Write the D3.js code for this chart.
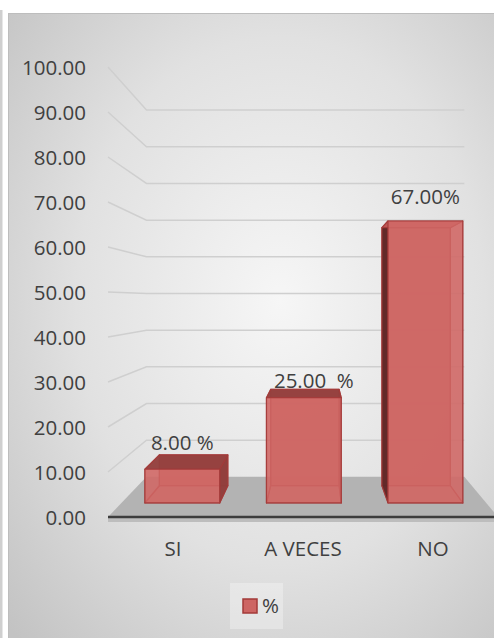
<!DOCTYPE html>
<html>
<head>
<meta charset="utf-8">
<script src="https://cdn.jsdelivr.net/npm/d3@7"></script>
<style>
  html, body { margin: 0; padding: 0; background: #fff; }
  svg { display: block; font-family: "Open Sans", sans-serif; }
  text { white-space: pre; }
</style>
</head>
<body>
<div id="chart"></div>
<script>
// chart data
const categories = ["SI", "A VECES", "NO"];
const percentValues = [8, 25, 67];
const valueLabels = ["8.00 %", "25.00  %", "67.00%"];
const yTicks = [0, 10, 20, 30, 40, 50, 60, 70, 80, 90, 100];
const seriesName = "%";

// layout
const width = 494;
const height = 638;
const fontSize = 20.5;
const textColor = "#404040";

// one point perspective: everything is laid out on the front plane
// and pulled toward the vanishing point by a depth factor
const vp = [316, 300];
const wallDepth = 0.815;
const barFrontDepth = 0.935;
const barBackDepth = 0.856;
const project = (x, y, s) => [vp[0] + (x - vp[0]) * s, vp[1] + (y - vp[1]) * s];

const x = d3.scaleBand()
  .domain(categories)
  .range([108, 498])
  .paddingInner(0.385)
  .paddingOuter(0.1925);

const y = d3.scaleLinear()
  .domain([0, 100])
  .range([517, 67]);

const fmt = d3.format(".2f");

const svg = d3.select("#chart").append("svg")
  .attr("width", width)
  .attr("height", height)
  .attr("viewBox", `0 0 ${width} ${height}`);

const defs = svg.append("defs");
const bg = defs.append("radialGradient")
  .attr("id", "bg")
  .attr("cx", "55%").attr("cy", "45%").attr("r", "75%");
bg.append("stop").attr("offset", "0%").attr("stop-color", "#f6f6f6");
bg.append("stop").attr("offset", "55%").attr("stop-color", "#e1e1e1");
bg.append("stop").attr("offset", "100%").attr("stop-color", "#c3c3c3");

const clip = defs.append("clipPath").attr("id", "panelClip");
clip.append("rect").attr("x", 9).attr("y", 14).attr("width", width - 9).attr("height", height - 14);

// outer frame bits
svg.append("rect")
  .attr("x", 0).attr("y", 10).attr("width", 2.5).attr("height", height - 10)
  .attr("fill", "#cfcfcf");

svg.append("rect")
  .attr("x", 8.5).attr("y", 13.5)
  .attr("width", width).attr("height", height)
  .attr("fill", "url(#bg)")
  .attr("stroke", "#bdbdbd");

const plot = svg.append("g").attr("clip-path", "url(#panelClip)");

// gridlines: left wall diagonals + back wall horizontals
const gridTicks = yTicks.filter(v => v > 0);
const [xMin, xMax] = x.range();

plot.selectAll(".wall-line")
  .data(gridTicks)
  .enter()
  .append("path")
  .attr("class", "wall-line")
  .attr("fill", "none")
  .attr("stroke", "#cfcfcf")
  .attr("stroke-width", 1.5)
  .attr("d", v => {
    const a = project(xMin, y(v), 1);
    const b = project(xMin, y(v), wallDepth);
    const c = project(xMax, y(v), wallDepth);
    return `M${a}L${b}L${c}`;
  });

// floor
const y0 = y(0);
const floorPts = [
  project(xMin, y0, 1),
  project(xMax, y0, 1),
  project(xMax, y0, wallDepth),
  project(xMin, y0, wallDepth)
];

plot.append("path")
  .attr("d", `M${floorPts.join("L")}Z`)
  .attr("fill", "#b3b3b3");

plot.append("rect")
  .attr("x", xMin).attr("y", y0 + 1)
  .attr("width", width).attr("height", 4)
  .attr("fill", "#bdbdbd");

plot.append("line")
  .attr("x1", xMin).attr("x2", width)
  .attr("y1", y0).attr("y2", y0)
  .attr("stroke", "#3d3d3d")
  .attr("stroke-width", 2.5);

// bars as transparent boxes
const bars = categories.map((c, i) => ({ cat: c, value: percentValues[i], label: valueLabels[i] }));

function boxFaces(d) {
  const x0 = x(d.cat);
  const x1 = x0 + x.bandwidth();
  const yt = y(d.value);
  const yb = y(0);
  const F = (px, py) => project(px, py, barFrontDepth);
  const B = (px, py) => project(px, py, barBackDepth);
  const center = x0 + x.bandwidth() / 2;
  const leftOfEye = center < vp[0];
  return [
    { k: "back", pts: [B(x0, yt), B(x1, yt), B(x1, yb), B(x0, yb)], fill: "#c05a57", op: 0.9 },
    { k: "bottom", pts: [F(x0, yb), F(x1, yb), B(x1, yb), B(x0, yb)], fill: "#c05a57", op: 0.6 },
    { k: "left", pts: [F(x0, yt), B(x0, yt), B(x0, yb), F(x0, yb)], fill: leftOfEye ? "#c05a57" : "#5e2726", op: leftOfEye ? 0.4 : 0.95 },
    { k: "right", pts: [F(x1, yt), B(x1, yt), B(x1, yb), F(x1, yb)], fill: leftOfEye ? "#8f3d3b" : "#c05a57", op: leftOfEye ? 0.95 : 0.4 },
    { k: "top", pts: [F(x0, yt), F(x1, yt), B(x1, yt), B(x0, yt)], fill: yt > vp[1] ? "#94403e" : "#c05a57", op: 0.95 },
    { k: "front", pts: [F(x0, yt), F(x1, yt), F(x1, yb), F(x0, yb)], fill: "#d26966", op: 0.82 }
  ];
}

const barGroups = plot.selectAll(".bar")
  .data(bars)
  .enter()
  .append("g")
  .attr("class", "bar");

barGroups.selectAll("path")
  .data(d => boxFaces(d))
  .enter()
  .append("path")
  .attr("d", f => `M${f.pts.join("L")}Z`)
  .attr("fill", f => f.fill)
  .attr("fill-opacity", f => f.op)
  .attr("stroke", "#a33a38")
  .attr("stroke-opacity", 0.85)
  .attr("stroke-width", 1.2)
  .attr("stroke-linejoin", "round");

// value labels sit just above the highest visible edge of each box
const labelNudge = [[0, -5], [10, -1], [0, -17]];
barGroups.append("text")
  .attr("text-anchor", "middle")
  .attr("font-size", fontSize)
  .attr("fill", textColor)
  .attr("x", (d, i) => project(x(d.cat) + x.bandwidth() / 2, 0, barFrontDepth)[0] + labelNudge[i][0])
  .attr("y", (d, i) => {
    const yt = y(d.value);
    const top = Math.min(project(0, yt, barFrontDepth)[1], project(0, yt, barBackDepth)[1]);
    return top + labelNudge[i][1];
  })
  .text(d => d.label);

// y axis labels
svg.append("g")
  .selectAll("text")
  .data(yTicks)
  .enter()
  .append("text")
  .attr("x", 86)
  .attr("y", v => y(v) + 8)
  .attr("text-anchor", "end")
  .attr("font-size", fontSize)
  .attr("fill", textColor)
  .text(v => fmt(v));

// category labels
svg.append("g")
  .selectAll("text")
  .data(categories)
  .enter()
  .append("text")
  .attr("x", c => x(c) + x.bandwidth() / 2)
  .attr("y", 556)
  .attr("text-anchor", "middle")
  .attr("font-size", fontSize)
  .attr("fill", textColor)
  .text(c => c);

// legend
const legend = svg.append("g").attr("transform", "translate(230, 583)");
legend.append("rect")
  .attr("width", 53).attr("height", 46)
  .attr("fill", "#ffffff").attr("fill-opacity", 0.3);
legend.append("rect")
  .attr("x", 13).attr("y", 16)
  .attr("width", 14).attr("height", 14)
  .attr("fill", "#cd6563")
  .attr("stroke", "#a33a38")
  .attr("stroke-width", 1.5);
legend.append("text")
  .attr("x", 32).attr("y", 30)
  .attr("font-size", fontSize)
  .attr("fill", textColor)
  .text(seriesName);
</script>
</body>
</html>
